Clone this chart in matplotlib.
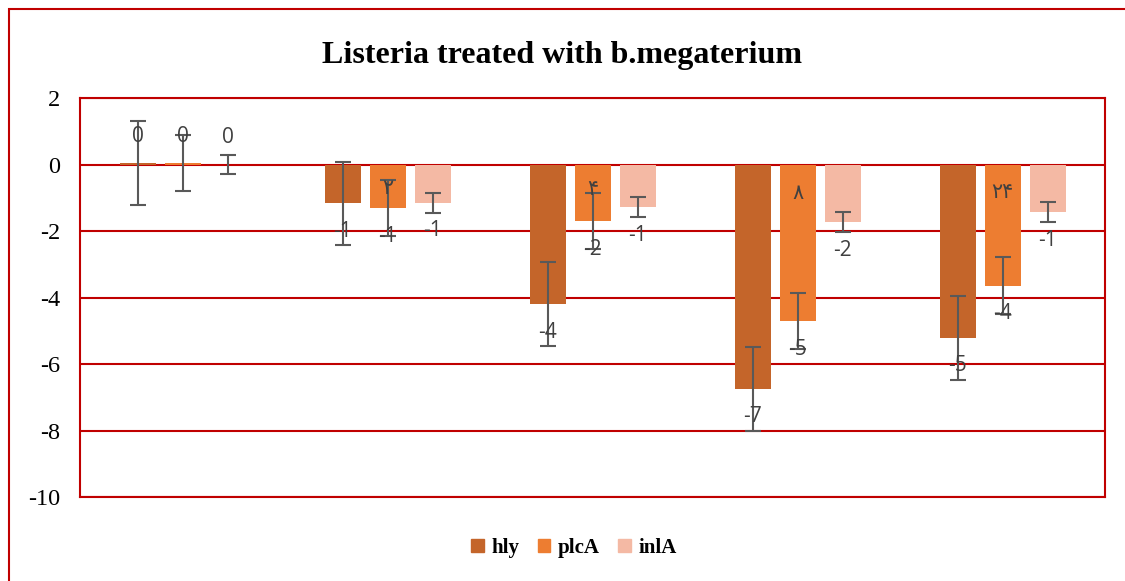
import numpy as np
import matplotlib
matplotlib.use('Agg')
import matplotlib.pyplot as plt
from matplotlib.patches import Rectangle, Patch

# --- data ---
groups = ['', '', '', '', '']
series = ['hly', 'plcA', 'inlA']
hly = [0.04, -1.17, -4.20, -6.74, -5.21]
plcA = [0.04, -1.31, -1.70, -4.71, -3.64]
inlA = [0.0, -1.15, -1.29, -1.74, -1.44]
hly_err = [1.26, 1.26, 1.26, 1.26, 1.26]
plcA_err = [0.85, 0.85, 0.85, 0.85, 0.85]
inlA_err = [0.30, 0.30, 0.30, 0.30, 0.30]
# extra labels written inside the plcA bars
plcA_notes = ['', '۲', '۴', '۸', '۲۴']
plcA_note_y = [0, -0.72, -0.74, -0.86, -0.83]

colors = ['#C4652A', '#ED7D31', '#F4B9A4']
red = '#C00000'
grey = '#595959'

plt.rcParams['axes.unicode_minus'] = False

fig = plt.figure(figsize=(11.25, 5.81), dpi=100)
ax = fig.add_axes([80 / 1125, 1 - 497 / 581, 1025 / 1125, 399 / 581])

x = np.arange(len(groups))
offset = 45 / 205
width = 36 / 205

all_vals = [hly, plcA, inlA]
all_errs = [hly_err, plcA_err, inlA_err]

for k, (vals, errs, col) in enumerate(zip(all_vals, all_errs, colors)):
    xs = x + (k - 1) * offset
    ax.bar(xs, vals, width, color=col, zorder=2)
    ax.errorbar(xs, vals, yerr=errs, fmt='none', ecolor=grey,
                elinewidth=1.5, capsize=6, capthick=1.5, zorder=3)
    for xi, v in zip(xs, vals):
        dy = 27 if v >= 0 else -28
        ax.annotate(f'{round(v):.0f}', (xi, v), xytext=(0, dy),
                    textcoords='offset pixels', ha='center', va='center',
                    fontsize=15, color='#404040',
                    family=['Open Sans', 'DejaVu Sans'], zorder=4)

for xi, note, ny in zip(x, plcA_notes, plcA_note_y):
    if note:
        ax.text(xi, ny, note, ha='center', va='center', fontsize=15,
                color='#404040', family=['DejaVu Sans'], zorder=4)

ax.set_xlim(-0.5, 4.5)
ax.set_ylim(-10, 2)
ax.set_yticks(range(-10, 3, 2))
ax.set_yticklabels([str(t) for t in range(-10, 3, 2)],
                   fontfamily='Liberation Serif', fontsize=17.5)
ax.set_xticks([])
ax.tick_params(axis='y', length=0, pad=14)
ax.grid(axis='y', color=red, linewidth=1.5, zorder=1)
for sp in ax.spines.values():
    sp.set_color(red)
    sp.set_linewidth(1.5)

fig.text(0.5, 1 - 55 / 581, 'Listeria treated with b.megaterium',
         ha='center', va='center', fontsize=23, fontweight='bold',
         fontfamily='Liberation Serif')

handles = [Patch(color=c) for c in colors]
fig.legend(handles, series, loc='center', bbox_to_anchor=(574 / 1125, 1 - 548 / 581),
           ncol=3, frameon=False, handlelength=0.6, handleheight=0.6,
           handletextpad=0.35, columnspacing=0.9,
           prop={'family': 'Liberation Serif', 'weight': 'bold', 'size': 15})

# outer chart frame (only left and top edges fall inside the picture)
fig.patches.append(Rectangle((9 / 1125, -0.2), 1.2, 1.2 - 9 / 581,
                             transform=fig.transFigure, fill=False,
                             edgecolor=red, linewidth=1.5))

fig.savefig('out.png', dpi=100)
